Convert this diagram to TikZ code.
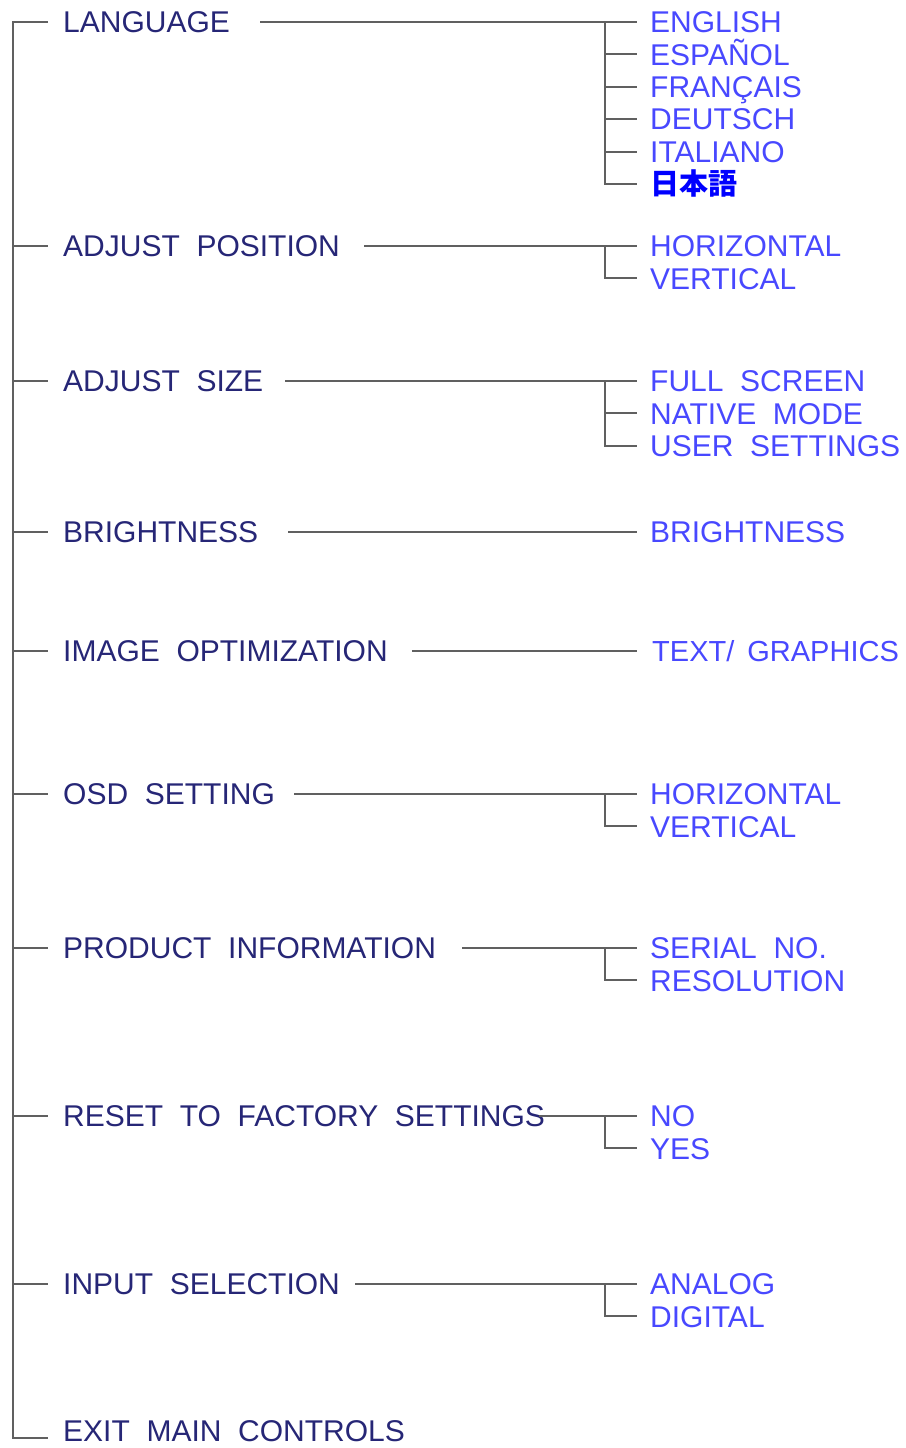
\documentclass[tikz,border=0pt]{standalone}
\usepackage{fontspec}
\setmainfont{Liberation Sans}
\newfontfamily\jpfont{Noto Sans CJK JP}
\usepackage{tikz}
\usetikzlibrary{positioning}
\usepackage{xcolor}
\definecolor{menunavy}{RGB}{38,38,118}
\definecolor{itemblue}{RGB}{72,72,255}
\definecolor{linegray}{RGB}{96,96,96}

\begin{document}
\begin{tikzpicture}[
    x=1pt, y=-1pt,
    node distance=10.5pt and 2.5cm,
    menu/.style={anchor=west, inner sep=0pt, text height=21.5pt, text depth=0pt, font=\fontsize{30}{30}\selectfont, text=menunavy},
    item/.style={anchor=west, inner sep=0pt, text height=21.5pt, text depth=0pt, font=\fontsize{30}{30}\selectfont, text=itemblue},
    link/.style={draw=linegray, line width=2pt},
]
    \useasboundingbox (0,0) rectangle (905,1448);

    % Main menu
    \node[menu] (lang) at (63,22) {LANGUAGE};
    \node[menu] (pos) at (63,246) {ADJUST\ \ POSITION};
    \node[menu] (size) at (63,381) {ADJUST\ \ SIZE};
    \node[menu] (bright) at (63,532) {BRIGHTNESS};
    \node[menu] (image) at (63,651) {IMAGE\ \ OPTIMIZATION};
    \node[menu] (osd) at (63,794) {OSD\ \ SETTING};
    \node[menu] (info) at (63,948) {PRODUCT\ \ INFORMATION};
    \node[menu] (reset) at (63,1116) {RESET\ \ TO\ \ FACTORY\ \ SETTINGS};
    \node[menu] (input) at (63,1284) {INPUT\ \ SELECTION};
    \node[menu] (exit) at (63,1431) {EXIT\ \ MAIN\ \ CONTROLS};

    % Language
    \node[item] (eng) at (650,22) {ENGLISH};
    \node[item, below=of eng.south west, anchor=north west] (esp) {ESPAÑOL};
    \node[item, below=of esp.south west, anchor=north west] (fra) {FRANÇAIS};
    \node[item, below=of fra.south west, anchor=north west] (deu) {DEUTSCH};
    \node[item, below=of deu.south west, anchor=north west] (ita) {ITALIANO};
    \node[item, below=of ita.south west, anchor=north west, text=blue, font=\jpfont\bfseries\fontsize{29}{29}\selectfont] (jap) {日本語};

    % Position
    \node[item] (poshor) at (650,246) {HORIZONTAL};
    \node[item, below=of poshor.south west, anchor=north west] (posver) {VERTICAL};

    % Size
    \node[item] (full) at (650,381) {FULL\ \ SCREEN};
    \node[item, below=of full.south west, anchor=north west] (native) {NATIVE\ \ MODE};
    \node[item, below=of native.south west, anchor=north west] (user) {USER\ \ SETTINGS};

    % Brightness, image
    \node[item] (brightval) at (650,532) {BRIGHTNESS};
    \node[item, font=\fontsize{29}{29}\selectfont] (textgfx) at (652,651) {TEXT/\hspace{13pt}GRAPHICS};

    % OSD
    \node[item] (osdhor) at (650,794) {HORIZONTAL};
    \node[item, below=of osdhor.south west, anchor=north west] (osdver) {VERTICAL};

    % Product information
    \node[item] (serial) at (650,948) {SERIAL\ \ NO.};
    \node[item, below=of serial.south west, anchor=north west] (res) {RESOLUTION};

    % Reset
    \node[item] (no) at (650,1116) {NO};
    \node[item, below=of no.south west, anchor=north west] (yes) {YES};

    % Input
    \node[item] (analog) at (650,1284) {ANALOG};
    \node[item, below=of analog.south west, anchor=north west] (digital) {DIGITAL};

    % Trunk
    \draw[link] ([xshift=-15pt]lang.west) -- ([xshift=-50pt]lang.west) |- ([xshift=-15pt,yshift=-7pt]exit.west);
    \foreach \n in {pos,size,bright,image,osd,info,reset,input}
        \draw[link] ([xshift=-50pt]\n.west) -- ([xshift=-15pt]\n.west);

    % Lines to sub menus
    \draw[link] ([xshift=30pt]lang.east) -- ([xshift=-13pt]eng.west);
    \draw[link] ([xshift=24pt]pos.east) -- ([xshift=-13pt]poshor.west);
    \draw[link] ([xshift=22pt]size.east) -- ([xshift=-13pt]full.west);
    \draw[link] ([xshift=30pt]bright.east) -- ([xshift=-13pt]brightval.west);
    \draw[link] ([xshift=24pt]image.east) -- ([xshift=-15pt]textgfx.west);
    \draw[link] ([xshift=19pt]osd.east) -- ([xshift=-13pt]osdhor.west);
    \draw[link] ([xshift=26pt]info.east) -- ([xshift=-13pt]serial.west);
    \draw[link] ([xshift=-6pt]reset.east) -- ([xshift=-13pt]no.west);
    \draw[link] ([xshift=15pt]input.east) -- ([xshift=-13pt]analog.west);

    % Branches
    \draw[link] ([xshift=-45pt]eng.west) |- ([xshift=-13pt]jap.west);
    \foreach \n in {esp,fra,deu,ita}
        \draw[link] ([xshift=-45pt]\n.west) -- ([xshift=-13pt]\n.west);
    \draw[link] ([xshift=-45pt]poshor.west) |- ([xshift=-13pt]posver.west);
    \draw[link] ([xshift=-45pt]full.west) |- ([xshift=-13pt]user.west);
    \draw[link] ([xshift=-45pt]native.west) -- ([xshift=-13pt]native.west);
    \draw[link] ([xshift=-45pt]osdhor.west) |- ([xshift=-13pt]osdver.west);
    \draw[link] ([xshift=-45pt]serial.west) |- ([xshift=-13pt]res.west);
    \draw[link] ([xshift=-45pt]no.west) |- ([xshift=-13pt]yes.west);
    \draw[link] ([xshift=-45pt]analog.west) |- ([xshift=-13pt]digital.west);

\end{tikzpicture}
\end{document}
